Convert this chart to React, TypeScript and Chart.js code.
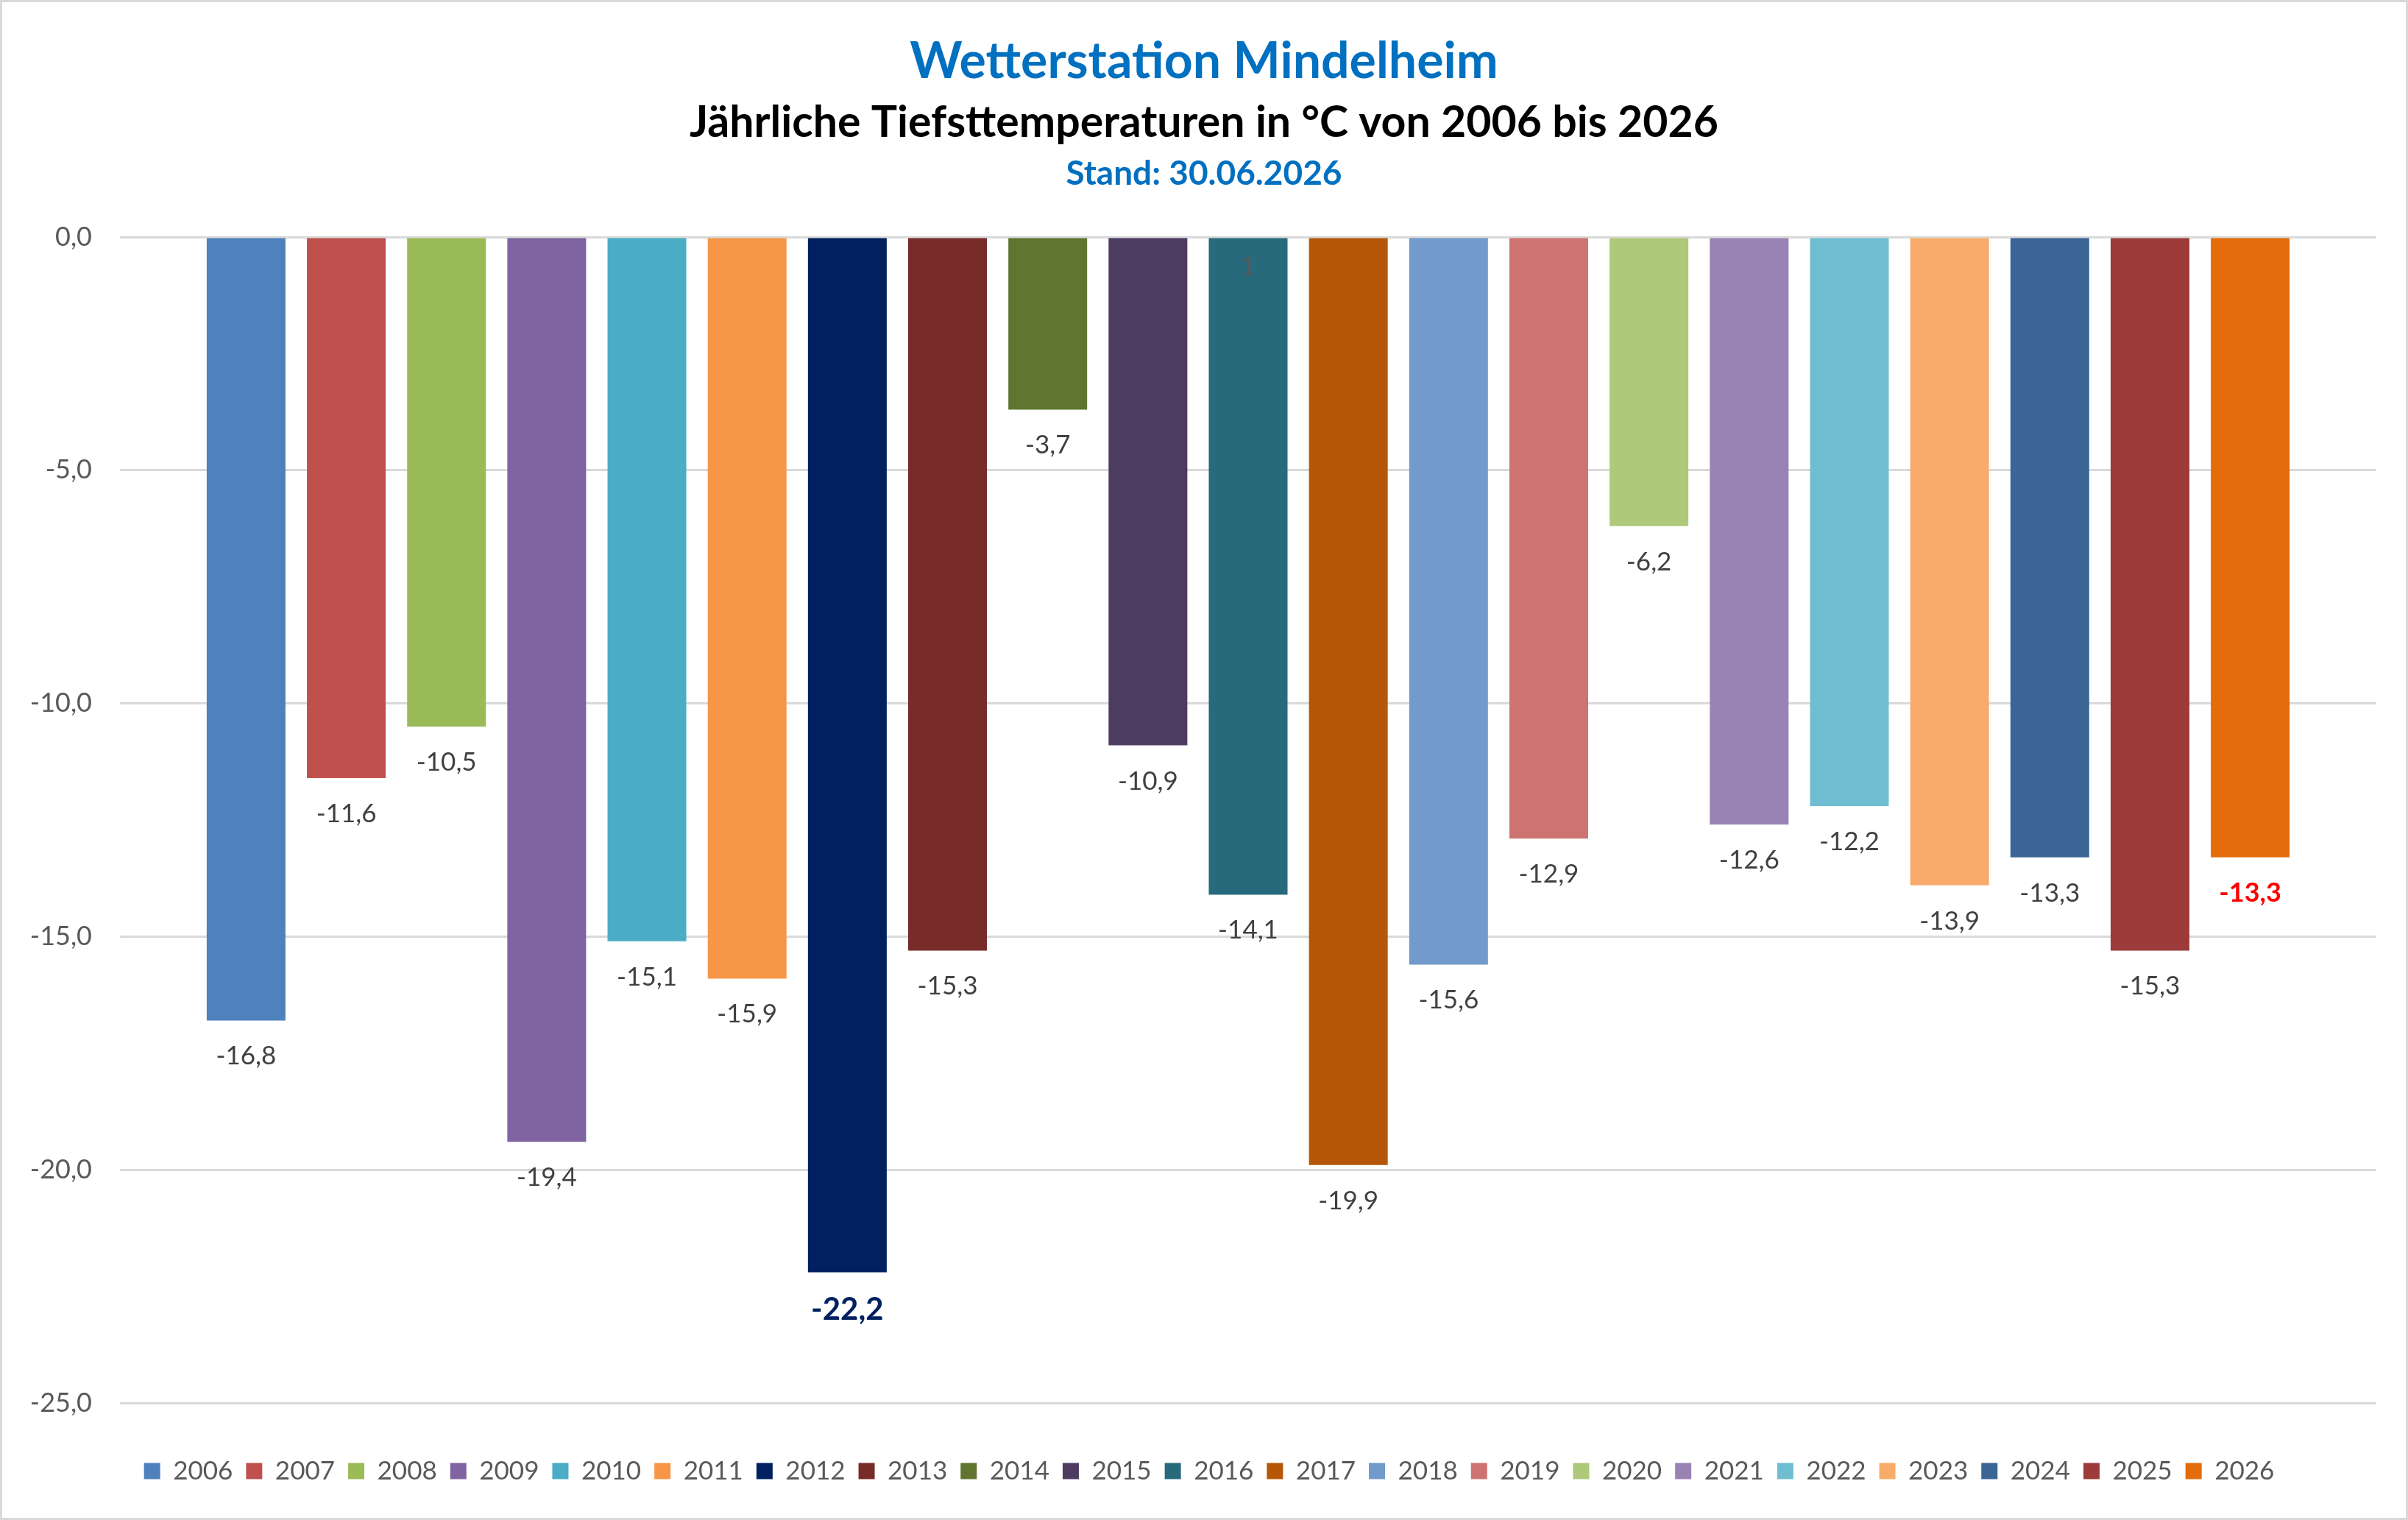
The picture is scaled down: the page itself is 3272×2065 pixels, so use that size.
import React, { useEffect, useRef } from 'react';
import { Chart, registerables } from 'chart.js';

Chart.register(...registerables);

// one Excel category, one series per year
const categories = ['1'];
const years = [
  '2006', '2007', '2008', '2009', '2010', '2011', '2012', '2013', '2014', '2015', '2016',
  '2017', '2018', '2019', '2020', '2021', '2022', '2023', '2024', '2025', '2026',
];
const minTemps = [
  -16.8, -11.6, -10.5, -19.4, -15.1, -15.9, -22.2, -15.3, -3.7, -10.9, -14.1,
  -19.9, -15.6, -12.9, -6.2, -12.6, -12.2, -13.9, -13.3, -15.3, -13.3,
];
const barColors = [
  '#4F81BD', '#C0504D', '#9BBB59', '#8064A2', '#4BACC6', '#F79646', '#002060', '#772C2A',
  '#5F7530', '#4D3B62', '#276A7C', '#B65708', '#729ACA', '#CD7371', '#AFC97A', '#9983B5',
  '#6FBDD1', '#F9AB6B', '#3A6595', '#9C3B39', '#E46C0A',
];
const yMin = -25;
const yMax = 0;
const yStep = 5;

const titleLines = [
  'Wetterstation Mindelheim',
  'Jährliche Tiefsttemperaturen in °C von 2006 bis 2026',
  'Stand: 30.06.2026',
];

// highlighted value labels (coldest year, current year)
const labelStyles: Record<string, { color: string; size: number; offset: number }> = {
  '2012': { color: '#002060', size: 42, offset: 64 },
  '2026': { color: '#FF0000', size: 36, offset: 60 },
};

const FONT = 'Lato';
const fmt = (v: number) => v.toFixed(1).replace('.', ',');

const titlePlugin = {
  id: 'titleLines',
  afterDraw(chart: any) {
    const { ctx, width } = chart;
    ctx.save();
    ctx.textAlign = 'center';
    ctx.textBaseline = 'alphabetic';
    ctx.fillStyle = '#0070C0';
    ctx.font = `bold 68px ${FONT}`;
    ctx.fillText(titleLines[0], width / 2, 103);
    ctx.fillStyle = '#000000';
    ctx.font = `bold 59px ${FONT}`;
    ctx.fillText(titleLines[1], width / 2, 183);
    ctx.fillStyle = '#0070C0';
    ctx.font = `bold 46px ${FONT}`;
    ctx.fillText(titleLines[2], width / 2, 248);
    ctx.restore();
  },
};

const valueLabels = {
  id: 'valueLabels',
  afterDatasetsDraw(chart: any) {
    const ctx = chart.ctx;
    ctx.save();
    ctx.textAlign = 'center';
    ctx.textBaseline = 'alphabetic';
    chart.data.datasets.forEach((ds: any, i: number) => {
      const bar = chart.getDatasetMeta(i).data[0];
      if (!bar) return;
      const st = labelStyles[ds.label];
      ctx.font = st ? `bold ${st.size}px ${FONT}` : `35px ${FONT}`;
      ctx.fillStyle = st ? st.color : '#404040';
      ctx.fillText(fmt(ds.data[0]), bar.x, bar.y + (st ? st.offset : 60));
    });
    ctx.restore();
  },
};

// Excel centres the legend a little right of the canvas middle
const legendShift = {
  id: 'legendShift',
  afterLayout(chart: any) {
    const l = chart.legend;
    if (l) {
      l.left += 27;
      l.right += 27;
    }
  },
};

const App = () => {
  const chartRef = useRef<HTMLCanvasElement>(null);

  useEffect(() => {
    if (!chartRef.current) return;
    Chart.defaults.font.family = FONT;
    const chart = new Chart(chartRef.current, {
      type: 'bar',
      data: {
        labels: categories,
        datasets: years.map((y, i) => ({
          label: y,
          data: [minTemps[i]],
          backgroundColor: barColors[i],
          borderWidth: 0,
          categoryPercentage: 0.9326,
          barPercentage: 0.786,
        })),
      },
      options: {
        animation: false,
        responsive: true,
        maintainAspectRatio: false,
        events: [],
        layout: { padding: { top: 319, right: 40, bottom: 36, left: 0 } },
        scales: {
          x: {
            type: 'category',
            position: { y: 0 } as any,
            offset: true,
            grid: { display: false, drawTicks: false },
            border: { display: false },
            ticks: { color: '#595959', font: { size: 35 }, padding: 20, z: 1 },
          },
          y: {
            min: yMin,
            max: yMax,
            grid: { color: '#D9D9D9', lineWidth: 3, drawTicks: false },
            border: { display: false },
            ticks: {
              stepSize: yStep,
              color: '#595959',
              font: { size: 36 },
              padding: 38,
              callback: (v: any) => fmt(Number(v)),
            },
            afterFit: (scale: any) => {
              scale.width = 160;
            },
          },
        },
        plugins: {
          legend: {
            position: 'bottom',
            title: { display: true, text: '', padding: { top: 45, bottom: 0 }, font: { size: 10 } },
            labels: {
              boxWidth: 22,
              boxHeight: 22,
              padding: 18,
              color: '#595959',
              font: { size: 35 },
            },
          },
          tooltip: { enabled: false },
        },
      },
      plugins: [titlePlugin, valueLabels, legendShift],
    });
    return () => {
      chart.destroy();
    };
  }, []);

  return (
    <div
      style={{
        position: 'fixed',
        left: 0,
        top: 0,
        width: 3272,
        height: 2065,
        boxSizing: 'border-box',
        border: '3px solid #D9D9D9',
        background: '#FFFFFF',
      }}
    >
      <div style={{ position: 'relative', width: 3266, height: 2059 }}>
        <canvas ref={chartRef} />
      </div>
    </div>
  );
};

export default App;
